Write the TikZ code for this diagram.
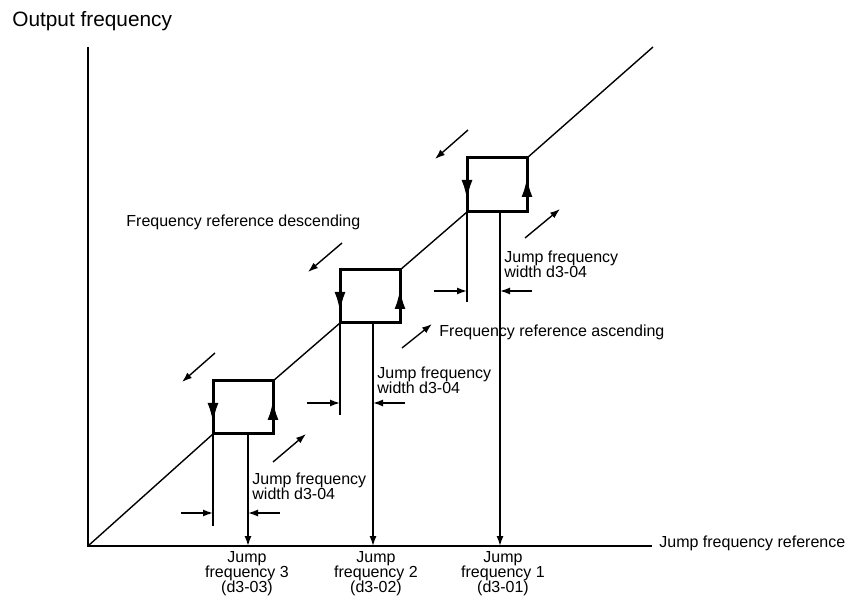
\documentclass[tikz,border=0pt]{standalone}
\usepackage{fontspec}
\setmainfont{Liberation Sans}
\usepackage{xcolor}
\usepackage{tikz}
\usetikzlibrary{arrows.meta}

\begin{document}
\begin{tikzpicture}[x=0.5pt, y=-0.5pt,
    thinline/.style={line width=0.7pt},
    jumpbox/.style={line width=1.5pt, line join=miter},
    boxarrow/.style={line width=1.5pt, -{Latex[length=10pt, width=5.5pt]}},
    dimarrow/.style={line width=0.7pt, -{Latex[length=5pt, width=3.5pt]}},
    lbl/.style={font=\fontsize{8}{7.5}\selectfont, inner sep=0pt}]
    \useasboundingbox (0,0) rectangle (846,598);

    % Draw the axes
    \draw[thinline] (88,47) -- (88,546) -- (652,546);

    % Draw the output frequency line
    \draw[thinline] (88,546) -- (213,434);
    \draw[thinline] (273,381) -- (340,323);
    \draw[thinline] (400,270) -- (467,212);
    \draw[thinline] (527,158) -- (653,47);

    % Jump 3
    \draw[jumpbox] (213,434) -- (213,381) -- (273,381) -- (273,434) -- cycle;
    \draw[boxarrow] (213,381) -- (213,423);
    \draw[boxarrow] (273,434) -- (273,400);
    \draw[thinline] (213,434) -- (213,526);
    \draw[dimarrow] (248,434) -- (248,546);
    \draw[dimarrow] (181,513) -- (213,513);
    \draw[dimarrow] (280,513) -- (248,513);
    \draw[dimarrow] (215,353) -- (182,382);
    \draw[dimarrow] (273,462) -- (306,434);

    % Jump 2
    \draw[jumpbox] (340,323) -- (340,270) -- (400,270) -- (400,323) -- cycle;
    \draw[boxarrow] (340,270) -- (340,312);
    \draw[boxarrow] (400,323) -- (400,289);
    \draw[thinline] (340,323) -- (340,415);
    \draw[dimarrow] (373,323) -- (373,546);
    \draw[dimarrow] (307,403) -- (340,403);
    \draw[dimarrow] (405,403) -- (373,403);
    \draw[dimarrow] (342,243) -- (308,272);
    \draw[dimarrow] (402,348) -- (432,324);

    % Jump 1
    \draw[jumpbox] (467,212) -- (467,158) -- (527,158) -- (527,212) -- cycle;
    \draw[boxarrow] (467,158) -- (467,200);
    \draw[boxarrow] (527,212) -- (527,177);
    \draw[thinline] (467,212) -- (467,302);
    \draw[dimarrow] (500,212) -- (500,546);
    \draw[dimarrow] (434,291) -- (467,291);
    \draw[dimarrow] (532,291) -- (500,291);
    \draw[dimarrow] (468,130) -- (435,159);
    \draw[dimarrow] (525,238) -- (560,209);

    % Add the text
    \node[anchor=base west, font=\fontsize{10.4}{12}\selectfont, inner sep=0pt] (title) at (12,27) {Output frequency};
    \node[lbl, anchor=base west] (descending) at (126,227) {Frequency reference descending};
    \node[lbl, anchor=base west] (ascending) at (439,337) {Frequency reference ascending};
    \node[lbl, anchor=base west] (xlabel) at (659,547) {Jump frequency reference};
    \node[lbl, anchor=base west, align=left] (width1) at (504,278) {Jump frequency\\width d3-04};
    \node[lbl, anchor=base west, align=left] (width2) at (377,394) {Jump frequency\\width d3-04};
    \node[lbl, anchor=base west, align=left] (width3) at (252,500) {Jump frequency\\width d3-04};
    \node[lbl, anchor=base, align=center] (jump3) at (247,592) {Jump\\frequency 3\\(d3-03)};
    \node[lbl, anchor=base, align=center] (jump2) at (376,592) {Jump\\frequency 2\\(d3-02)};
    \node[lbl, anchor=base, align=center] (jump1) at (503,592) {Jump\\frequency 1\\(d3-01)};
\end{tikzpicture}
\end{document}
